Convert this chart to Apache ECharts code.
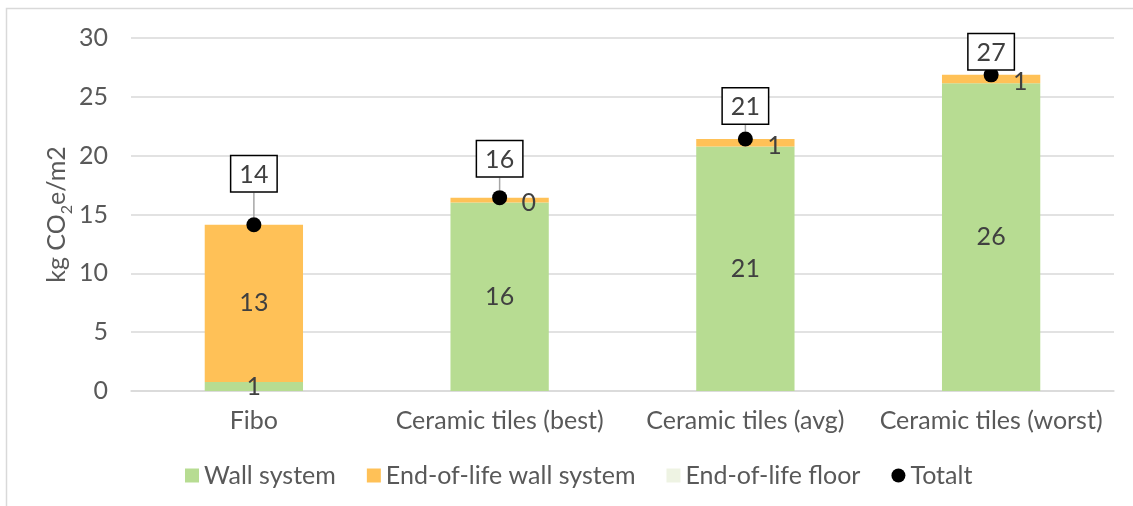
<!DOCTYPE html>
<html>
<head>
<meta charset="utf-8">
<script src="https://cdn.jsdelivr.net/npm/echarts@6/dist/echarts.min.js"></script>
<style>
html,body{margin:0;padding:0;background:#fff;}
#chart{width:1133px;height:506px;}
</style>
</head>
<body>
<div id="chart"></div>
<script>
// ---- data ----
const categories = ['Fibo', 'Ceramic tiles (best)', 'Ceramic tiles (avg)', 'Ceramic tiles (worst)'];
const wallSystem = [0.77, 16.03, 20.77, 26.16];
const eolWallSystem = [13.36, 0.40, 0.65, 0.71];
const eolFloor = [0, 0, 0, 0];
const totalt = [14.13, 16.43, 21.42, 26.87];
const yTicks = [0, 5, 10, 15, 20, 25, 30];

// ---- styles ----
const FONT = 'Lato';
const TXT = '#595959';
const LBL = '#404040';
const FS = 25;
const eolLabelOffsets = [[0, 0], [29, 3], [29, 3], [29, 3]];
const totalLabelDy = [-26, -14, -8, 2];

const chart = echarts.init(document.getElementById('chart'), null, {renderer: 'canvas'});
const round = p => String(Math.round(p.value));

chart.setOption({
  animation: false,
  textStyle: {fontFamily: FONT},
  graphic: [{
    type: 'rect', silent: true, z: -1,
    shape: {x: 6.5, y: 8.5, width: 1200, height: 700},
    style: {fill: 'none', stroke: '#d9d9d9', lineWidth: 1.5}
  }],
  grid: {left: 131, right: 19, top: 38, bottom: 115, containLabel: false},
  legend: {
    left: 180, top: 458,
    itemWidth: 14, itemHeight: 14, itemGap: 31,
    textStyle: {fontFamily: FONT, fontSize: FS, color: TXT},
    data: [
      {name: 'Wall system', icon: 'rect'},
      {name: 'End-of-life wall system', icon: 'rect'},
      {name: 'End-of-life floor', icon: 'rect'},
      {name: 'Totalt', icon: 'circle', itemStyle: {color: '#000', opacity: 1}}
    ]
  },
  xAxis: {
    type: 'category',
    data: categories,
    axisLine: {lineStyle: {color: '#d9d9d9', width: 1.5}},
    axisTick: {show: false},
    axisLabel: {interval: 0, fontFamily: FONT, fontSize: FS, color: TXT, margin: 17}
  },
  yAxis: {
    type: 'value',
    min: yTicks[0], max: yTicks[yTicks.length - 1], interval: 5,
    name: '{a|kg CO}{b|2}{a|e/m2}',
    nameLocation: 'middle', nameRotate: 90, nameGap: 62, nameMoveOverlap: false,
    nameTextStyle: {
      fontFamily: FONT, fontSize: FS, color: TXT,
      rich: {
        a: {fontFamily: FONT, fontSize: FS, color: TXT, lineHeight: 30, verticalAlign: 'bottom'},
        b: {fontFamily: FONT, fontSize: 16, color: TXT, lineHeight: 30, verticalAlign: 'bottom', padding: [0, 0, -6, 0]}
      }
    },
    axisLine: {show: false},
    axisTick: {show: false},
    axisLabel: {fontFamily: FONT, fontSize: FS, color: TXT, margin: 23},
    splitLine: {lineStyle: {color: '#d9d9d9', width: 1.5}}
  },
  series: [
    {
      name: 'Wall system', type: 'bar', stack: 'total', barWidth: '40%',
      itemStyle: {color: '#b7dc92'},
      label: {show: true, position: 'inside', formatter: round, fontFamily: FONT, fontSize: FS, color: LBL},
      data: wallSystem
    },
    {
      name: 'End-of-life wall system', type: 'bar', stack: 'total', barWidth: '40%',
      itemStyle: {color: '#ffc157'},
      label: {show: true, position: 'inside', formatter: round, fontFamily: FONT, fontSize: FS, color: LBL},
      data: eolWallSystem.map((v, i) => ({value: v, label: {offset: eolLabelOffsets[i]}}))
    },
    {
      name: 'End-of-life floor', type: 'bar', stack: 'total', barWidth: '40%',
      itemStyle: {color: '#eef3e3'},
      label: {show: false},
      data: eolFloor
    },
    {
      name: 'Totalt', type: 'scatter', symbol: 'circle', symbolSize: 15,
      itemStyle: {color: '#000', opacity: 1}, z: 5,
      label: {
        show: true, position: 'top', distance: 0, formatter: round,
        fontFamily: FONT, fontSize: FS, color: LBL,
        backgroundColor: '#fff', borderColor: '#000', borderWidth: 1.5,
        padding: [6, 8, 4, 8]
      },
      labelLine: {show: true, lineStyle: {color: '#a6a6a6', width: 1.5, opacity: 1}},
      labelLayout: p => ({dy: totalLabelDy[p.dataIndex]}),
      data: totalt
    }
  ]
});
</script>
</body>
</html>
